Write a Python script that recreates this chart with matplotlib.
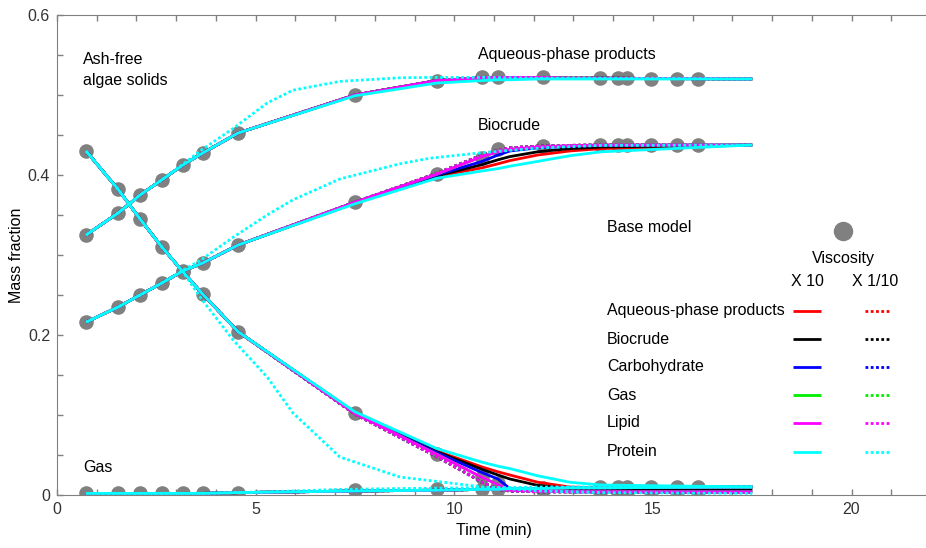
import matplotlib
matplotlib.use('Agg')
import matplotlib.pyplot as plt
from matplotlib.lines import Line2D
from matplotlib.ticker import MultipleLocator

plt.rcParams['font.family'] = ['Liberation Sans', 'DejaVu Sans']

# base model (gray dots)
t_points = [0.73, 1.54, 2.09, 2.64, 3.17, 3.67, 4.56, 7.50, 9.56, 10.70, 11.10, 12.23,
            13.67, 14.12, 14.34, 14.95, 15.60, 16.13]
solids_points = [0.430, 0.382, 0.345, 0.310, 0.279, 0.251, 0.204, 0.1025, 0.051, 0.0225,
                 0.015, 0.006, 0.004, 0.004, 0.004, 0.004, 0.004, 0.004]
aqueous_points = [0.325, 0.3525, 0.375, 0.394, 0.4125, 0.4275, 0.4525, 0.500, 0.5175, 0.5225,
                  0.5225, 0.5225, 0.521, 0.521, 0.521, 0.5205, 0.520, 0.520]
biocrude_points = [0.216, 0.235, 0.250, 0.265, 0.280, 0.290, 0.3125, 0.366, 0.4015, 0.421,
                   0.432, 0.4365, 0.438, 0.438, 0.438, 0.438, 0.438, 0.438]
gas_points = [0.002, 0.002, 0.002, 0.002, 0.002, 0.002, 0.003, 0.006, 0.007, 0.008,
              0.008, 0.009, 0.010, 0.010, 0.010, 0.010, 0.010, 0.010]

# model curves
t_model = [0.73, 1.54, 2.09, 2.64, 3.17, 3.67, 4.56, 7.50, 9.56, 10.70, 11.10, 11.40,
           12.10, 12.90, 13.70, 17.50]

solids_base = [0.430, 0.382, 0.345, 0.310, 0.279, 0.251, 0.204, 0.102, 0.051, 0.022,
               0.013, 0.006, 0.005, 0.004, 0.004, 0.004]
solids_fast = [0.430, 0.382, 0.345, 0.310, 0.279, 0.251, 0.204, 0.101, 0.048, 0.016,
               0.007, 0.005, 0.004, 0.004, 0.004, 0.003]
solids_blue_x10 = [0.430, 0.382, 0.345, 0.310, 0.279, 0.251, 0.204, 0.102, 0.053, 0.028,
                   0.020, 0.008, 0.005, 0.004, 0.004, 0.004]
solids_black_x10 = [0.430, 0.382, 0.345, 0.310, 0.279, 0.251, 0.204, 0.103, 0.054, 0.032,
                    0.025, 0.020, 0.012, 0.008, 0.007, 0.006]
solids_red_x10 = [0.430, 0.382, 0.345, 0.310, 0.279, 0.251, 0.204, 0.103, 0.055, 0.035,
                  0.029, 0.025, 0.016, 0.010, 0.009, 0.007]
solids_cyan_x10 = [0.430, 0.382, 0.345, 0.310, 0.279, 0.251, 0.204, 0.104, 0.058, 0.041,
                   0.036, 0.033, 0.024, 0.016, 0.0125, 0.010]

aqueous_base = [0.325, 0.3525, 0.375, 0.394, 0.4125, 0.4275, 0.4525, 0.500, 0.518, 0.5215,
                0.522, 0.522, 0.522, 0.521, 0.521, 0.520]
aqueous_cyan_x10 = [0.325, 0.3525, 0.375, 0.394, 0.4125, 0.4275, 0.4525, 0.499, 0.515, 0.518,
                    0.519, 0.519, 0.520, 0.520, 0.520, 0.520]

biocrude_base = [0.216, 0.235, 0.250, 0.265, 0.280, 0.290, 0.3125, 0.366, 0.401, 0.423,
                 0.429, 0.432, 0.435, 0.4365, 0.4375, 0.4375]
biocrude_fast = [0.216, 0.235, 0.250, 0.265, 0.280, 0.290, 0.3125, 0.366, 0.402, 0.425,
                 0.431, 0.434, 0.436, 0.437, 0.4375, 0.4375]
biocrude_blue_x10 = [0.216, 0.235, 0.250, 0.265, 0.280, 0.290, 0.3125, 0.366, 0.400, 0.417,
                     0.425, 0.430, 0.434, 0.436, 0.437, 0.4375]
biocrude_black_x10 = [0.216, 0.235, 0.250, 0.265, 0.280, 0.290, 0.3125, 0.365, 0.399, 0.413,
                      0.419, 0.423, 0.429, 0.433, 0.435, 0.4375]
biocrude_red_x10 = [0.216, 0.235, 0.250, 0.265, 0.280, 0.290, 0.3125, 0.365, 0.398, 0.409,
                    0.414, 0.418, 0.425, 0.430, 0.433, 0.4375]
biocrude_cyan_x10 = [0.216, 0.235, 0.250, 0.265, 0.280, 0.290, 0.3125, 0.364, 0.396, 0.405,
                     0.408, 0.411, 0.417, 0.424, 0.429, 0.4375]

gas_base = [0.002, 0.002, 0.002, 0.002, 0.002, 0.002, 0.003, 0.005, 0.006, 0.007,
            0.007, 0.008, 0.008, 0.009, 0.009, 0.010]

# protein viscosity x 1/10 has its own time grid
t_protein_low = [0.73, 1.54, 2.09, 2.64, 3.17, 3.60, 4.43, 5.29, 5.94, 7.12, 8.63, 9.39,
                 10.72, 12.20, 13.70, 17.50]
solids_cyan_low = [0.430, 0.382, 0.345, 0.310, 0.279, 0.2475, 0.194, 0.1475, 0.1025, 0.0475,
                   0.0225, 0.018, 0.010, 0.005, 0.003, 0.002]
aqueous_cyan_low = [0.325, 0.3525, 0.375, 0.394, 0.4135, 0.430, 0.458, 0.490, 0.506, 0.517,
                    0.5215, 0.522, 0.522, 0.521, 0.521, 0.520]
biocrude_cyan_low = [0.216, 0.235, 0.250, 0.265, 0.281, 0.293, 0.322, 0.350, 0.369, 0.395,
                     0.414, 0.421, 0.428, 0.434, 0.437, 0.4375]
gas_cyan_low = [0.002, 0.002, 0.002, 0.002, 0.002, 0.002, 0.003, 0.004, 0.005, 0.007,
                0.008, 0.0085, 0.009, 0.010, 0.010, 0.0105]

params = ['Aqueous-phase products', 'Biocrude', 'Carbohydrate', 'Gas', 'Lipid', 'Protein']
colors = ['#ff0000', '#000000', '#0000ff', '#00ee00', '#ff00ff', '#00ffff']

x10_curves = [
    (t_model, [solids_red_x10, aqueous_base, biocrude_red_x10, gas_base]),
    (t_model, [solids_black_x10, aqueous_base, biocrude_black_x10, gas_base]),
    (t_model, [solids_blue_x10, aqueous_base, biocrude_blue_x10, gas_base]),
    (t_model, [solids_base, aqueous_base, biocrude_base, gas_base]),
    (t_model, [solids_base, aqueous_base, biocrude_base, gas_base]),
    (t_model, [solids_cyan_x10, aqueous_cyan_x10, biocrude_cyan_x10, gas_base]),
]
low_curves = [
    (t_model, [solids_fast, aqueous_base, biocrude_fast, gas_base]),
    (t_model, [solids_fast, aqueous_base, biocrude_fast, gas_base]),
    (t_model, [solids_fast, aqueous_base, biocrude_fast, gas_base]),
    (t_model, [solids_fast, aqueous_base, biocrude_fast, gas_base]),
    (t_model, [solids_fast, aqueous_base, biocrude_fast, gas_base]),
    (t_protein_low, [solids_cyan_low, aqueous_cyan_low, biocrude_cyan_low, gas_cyan_low]),
]

W, H = 926, 548
fig = plt.figure(figsize=(W / 100, H / 100), dpi=100)
ax = fig.add_axes([57 / W, (H - 495) / H, (931 - 57) / W, (495 - 15) / H])

gray = '#808080'
for series in [solids_points, aqueous_points, biocrude_points, gas_points]:
    ax.plot(t_points, series, 'o', color=gray, markersize=10.5, markeredgewidth=0, zorder=1)

dotted = (0, (1.0, 0.9))
for i, c in enumerate(colors):
    t, curves = x10_curves[i]
    for y in curves:
        ax.plot(t, y, color=c, lw=2.0, solid_capstyle='butt', zorder=2)
    t, curves = low_curves[i]
    for y in curves:
        ax.plot(t, y, color=c, lw=2.0, linestyle=dotted, zorder=2)

ax.set_xlim(0, 22)
ax.set_ylim(0, 0.6)
ax.xaxis.set_minor_locator(MultipleLocator(1))
ax.yaxis.set_minor_locator(MultipleLocator(0.05))
ax.set_xticks([0, 5, 10, 15, 20])
ax.set_xticklabels(['0', '5', '10', '15', '20'])
ax.set_yticks([0, 0.2, 0.4, 0.6])
ax.set_yticklabels(['0', '0.2', '0.4', '0.6'])
ax.tick_params(which='both', direction='in', length=4, width=1, color=gray,
               labelsize=11.5, labelcolor='#333333', top=True, pad=5)
for s in ['left', 'top', 'bottom']:
    ax.spines[s].set_color(gray)
ax.spines['right'].set_visible(False)
ax.set_xlabel('Time (min)', fontsize=11.5, labelpad=4)
ax.set_ylabel('Mass fraction', fontsize=11.5, labelpad=3)


def fx(px):
    return px / W


def fy(py):
    return 1 - py / H


fs = 11.5
# labels inside the plot
fig.text(fx(83), fy(60), 'Ash-free', fontsize=fs, va='center')
fig.text(fx(83), fy(80), 'algae solids', fontsize=fs, va='center')
fig.text(fx(478), fy(54), 'Aqueous-phase products', fontsize=fs, va='center')
fig.text(fx(478), fy(126), 'Biocrude', fontsize=fs, va='center')
fig.text(fx(83), fy(468), 'Gas', fontsize=fs, va='center')

# hand-made legend
fig.text(fx(607), fy(228), 'Base model', fontsize=fs, va='center')
fig.add_artist(Line2D([fx(843)], [fy(231)], marker='o', markersize=14, color=gray,
                      markeredgewidth=0, transform=fig.transFigure))
fig.text(fx(843), fy(258), 'Viscosity', fontsize=fs, va='center', ha='center')
fig.text(fx(807), fy(281), 'X 10', fontsize=fs, va='center', ha='center')
fig.text(fx(875), fy(281), 'X 1/10', fontsize=fs, va='center', ha='center')
row_y = [311, 339, 367, 395, 423, 452]
for name, c, yy in zip(params, colors, row_y):
    fig.text(fx(607), fy(yy), name, fontsize=fs, va='center')
    fig.add_artist(Line2D([fx(793), fx(821)], [fy(yy), fy(yy)], color=c, lw=2.0,
                          transform=fig.transFigure, solid_capstyle='butt'))
    fig.add_artist(Line2D([fx(865), fx(890)], [fy(yy), fy(yy)], color=c, lw=2.0,
                          linestyle=dotted, transform=fig.transFigure))

fig.savefig('out.png', dpi=100)
